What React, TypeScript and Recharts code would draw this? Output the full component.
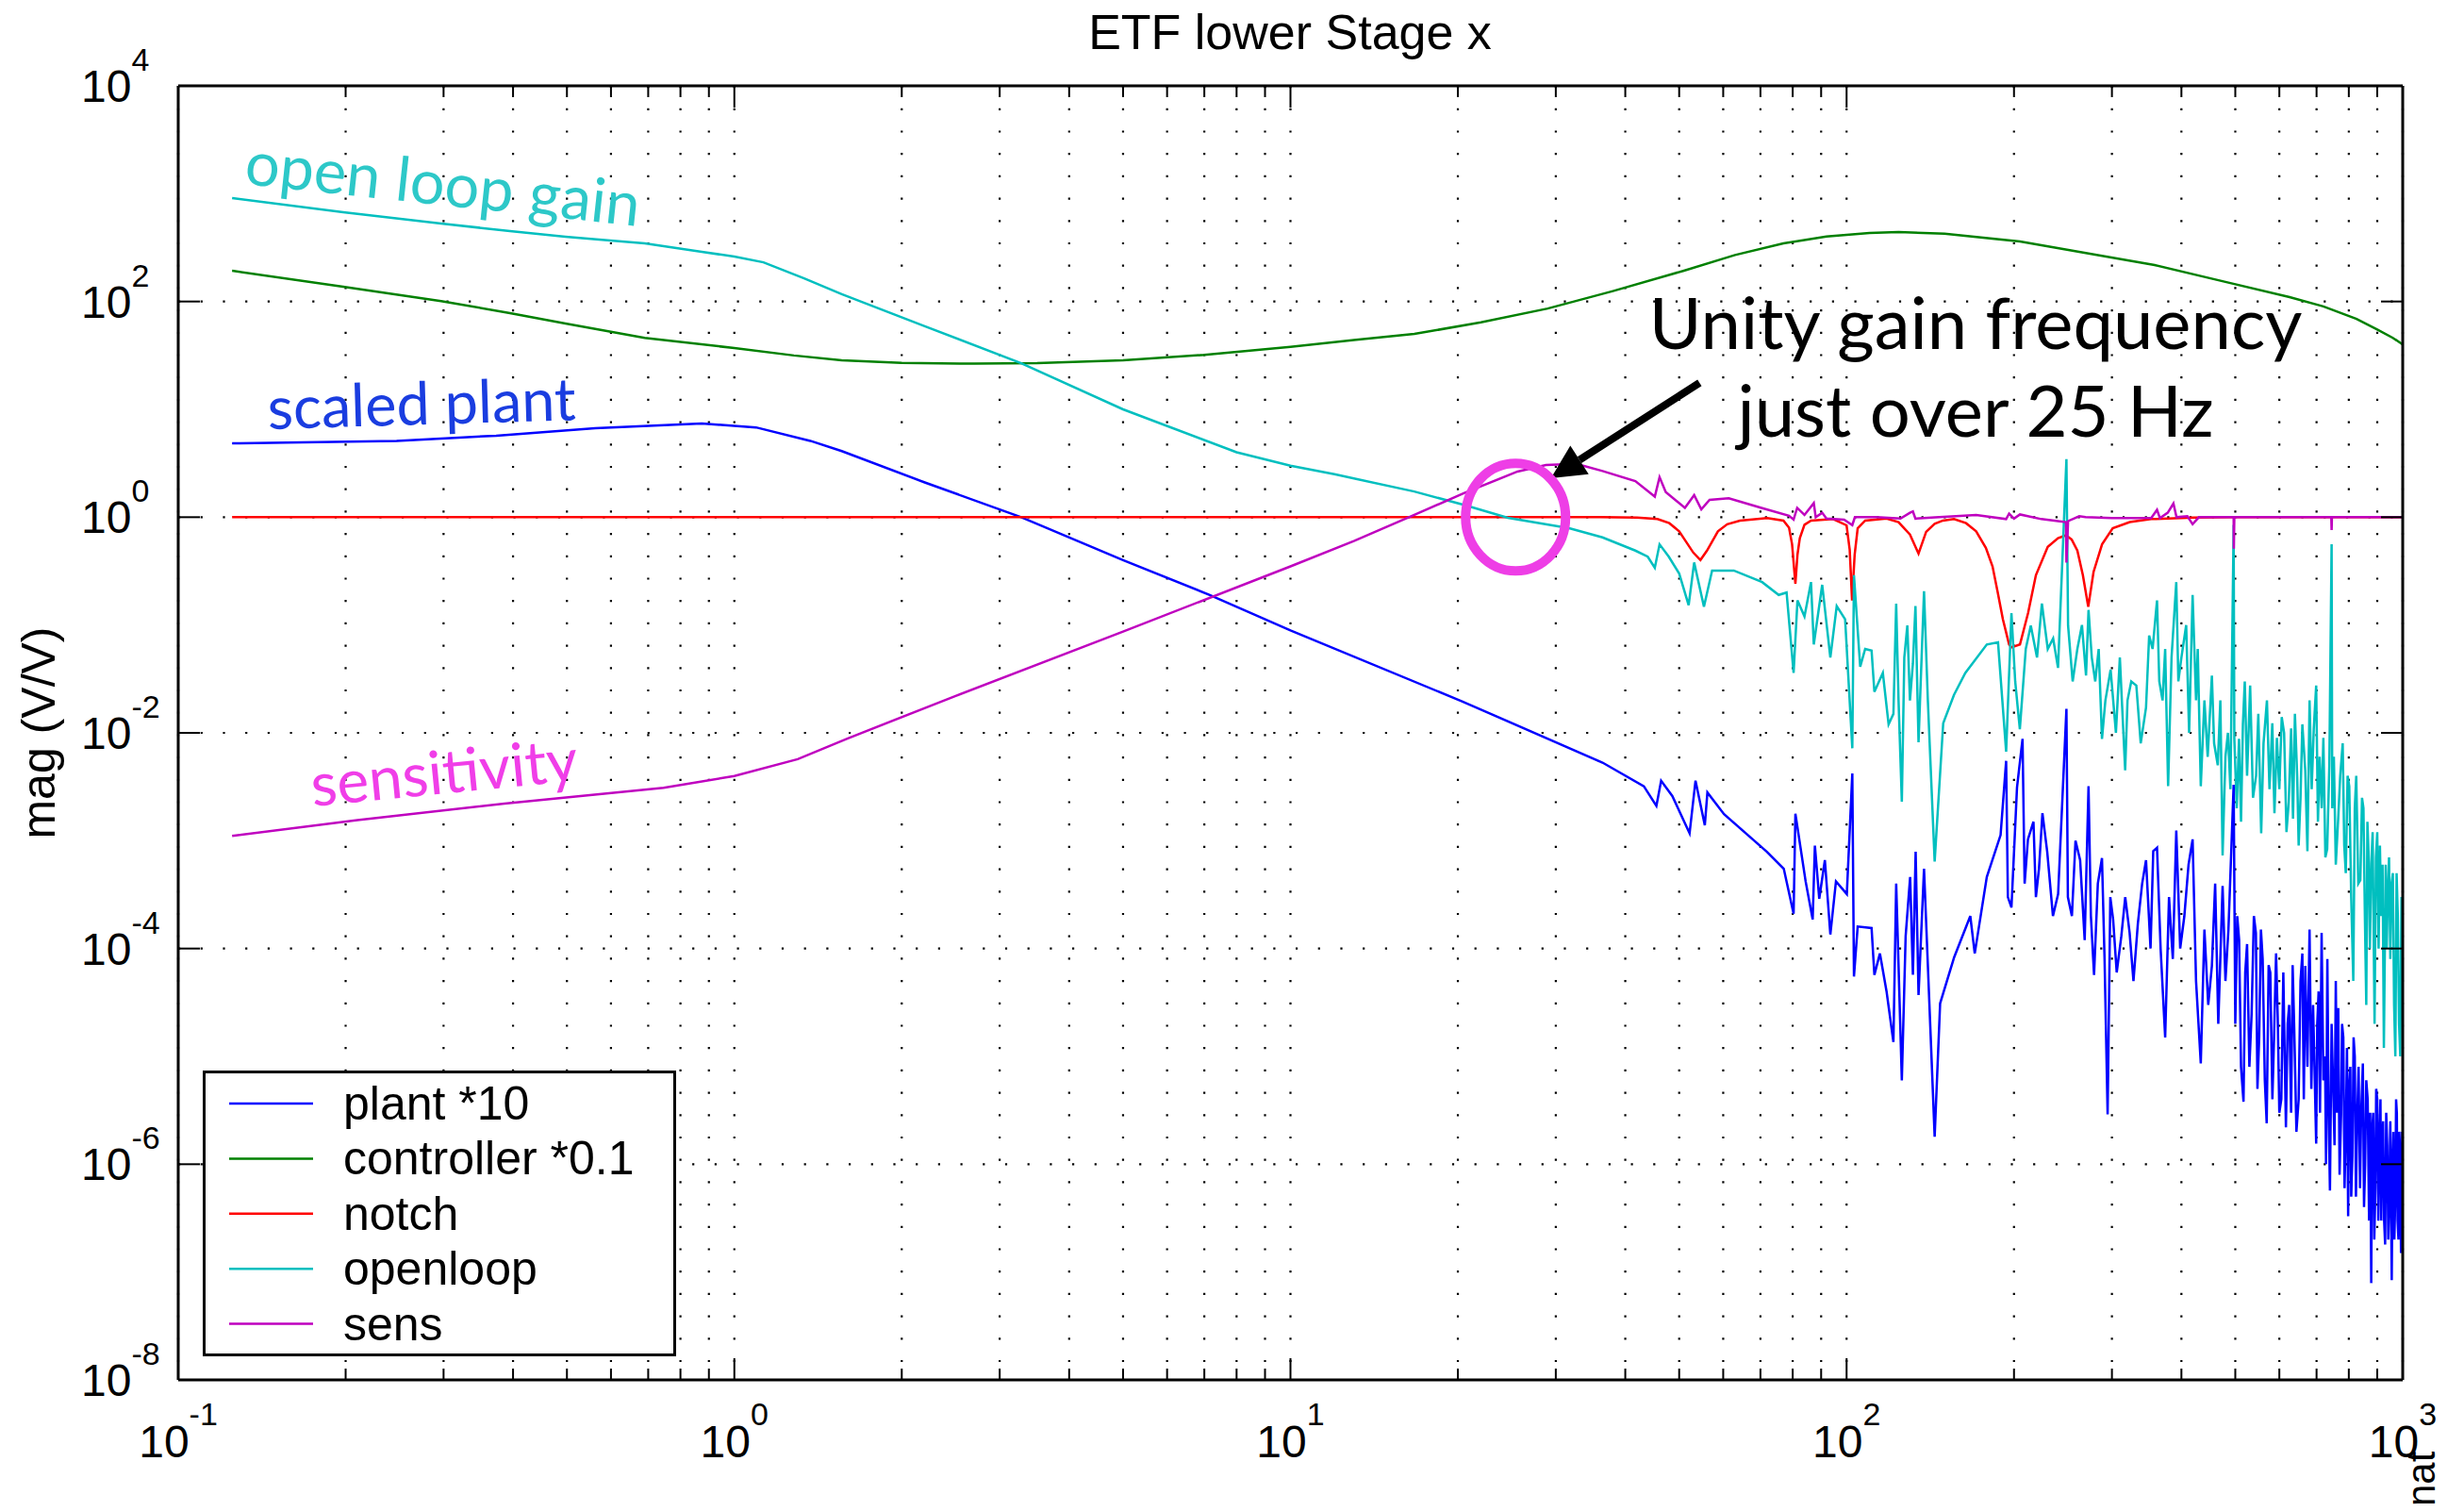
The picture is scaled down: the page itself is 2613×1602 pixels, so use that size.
import {
  CartesianGrid,
  Customized,
  Legend,
  Line,
  LineChart,
  ReferenceDot,
  ReferenceLine,
  XAxis,
  YAxis,
} from "recharts";

const FONT = "'Liberation Sans', Arial, Helvetica, sans-serif";
const HAND = "Lato, 'Open Sans', sans-serif";

// frequency ticks (Hz), labelled only at decades
const xTicks = [
  0.1, 0.2, 0.3, 0.4, 0.5, 0.6, 0.7, 0.8, 0.9,
  1, 2, 3, 4, 5, 6, 7, 8, 9,
  10, 20, 30, 40, 50, 60, 70, 80, 90,
  100, 200, 300, 400, 500, 600, 700, 800, 900, 1000,
];
const yTicks = [1e-8, 1e-6, 1e-4, 1e-2, 1, 1e2, 1e4];

// [frequency Hz, magnitude V/V]
const plantPts: [number, number][] = [
  [0.125, 4.84], [0.247, 5.1], [0.373, 5.7], [0.562, 6.7], [0.874, 7.4], [1.094, 6.8],
  [1.37, 5.1], [1.56, 4.1], [2.2, 2.1], [3.28, 1.0], [5, 0.4], [7.16, 0.19], [10, 0.089],
  [20.3, 0.0197], [36.4, 5.3e-3], [43.2, 3.2e-3], [45.5, 2.1e-3], [46.4, 3.6e-3],
  [48.6, 2.6e-3], [52.2, 1.17e-3], [53.5, 3.6e-3], [55.6, 1.39e-3], [56.2, 2.8e-3],
  [60.2, 1.76e-3], [71.9, 7.9e-4], [77.1, 5.5e-4], [80.3, 2.1e-4], [80.9, 1.78e-3],
  [84.4, 4.2e-4], [86.9, 1.86e-4], [87.7, 9.0e-4], [89.3, 2.9e-4], [91.4, 6.6e-4],
  [93.5, 1.35e-4], [95.7, 4.2e-4], [100.1, 3.2e-4], [102.4, 4.2e-3], [103.1, 5.5e-5],
  [104.7, 1.6e-4], [110.9, 1.55e-4], [112.2, 5.7e-5], [114.8, 9.0e-5], [118, 4e-5],
  [121.4, 1.36e-5], [122.8, 4.0e-4], [125.7, 6.0e-6], [127.7, 1.3e-4], [130.1, 4.6e-4],
  [131.6, 5.7e-5], [133.1, 7.9e-4], [134.7, 3.7e-5], [137.8, 5.5e-4], [144.0, 1.8e-6],
  [147.3, 3.1e-5], [156.1, 8.3e-5], [166.9, 2.0e-4], [170, 9e-5], [178.7, 4.6e-4],
  [189.2, 1.13e-3], [193.6, 5.5e-3], [195, 3e-4], [197.9, 2.4e-4], [202.5, 3.1e-3],
  [207.2, 8.8e-3], [209, 4e-4], [211.9, 1.03e-3], [216.8, 1.5e-3], [219, 3e-4],
  [221.8, 5.5e-4], [225, 1.8e-3], [229.5, 7.9e-4], [235, 2e-4], [240.1, 3.2e-4],
  [248.5, 0.0167], [250, 3e-4], [254.2, 2.0e-4], [258, 1e-3], [263, 6.6e-4], [268, 1.2e-4],
  [272.3, 3.2e-3], [275, 2e-4], [278.6, 5.7e-5], [283, 4e-4], [287.9, 6.9e-4], [291, 8e-5],
  [294.7, 2.9e-6], [298, 3e-4], [301.5, 1.86e-4], [306, 6e-5], [311.9, 1.3e-4],
  [317, 3e-4], [322.8, 1.4e-4], [328, 5e-5], [334, 1.7e-4], [340, 4e-4], [345.5, 6.6e-4],
  [352, 1e-4], [356, 8e-4], [361.6, 8.6e-4], [367, 1e-4], [374, 1.5e-5], [380, 3e-4],
  [386, 8e-5], [391.6, 1.24e-3], [398, 1e-4], [404.9, 2.0e-4], [412, 6e-4], [419, 1.03e-3],
  [425, 5e-5], [433.4, 8.6e-6], [440, 1.5e-4], [447, 3e-5], [453.8, 6.9e-5], [460, 4e-4],
  [466, 2e-5], [474.4, 3.8e-4], [480, 5e-5], [486, 1.5e-4], [496.6, 3.3e-3], [500, 2e-5],
  [504, 2e-4], [508, 1.2e-4], [512, 8e-6], [517.3, 3.8e-6], [521, 6e-5], [525, 1.1e-4],
  [530, 8e-6], [535, 2.5e-5], [540, 2e-4], [544.5, 1.4e-4], [548, 5e-6], [552, 1.5e-5],
  [556, 1.5e-4], [560, 8e-5], [565, 6e-6], [569.4, 2.4e-6], [574, 7e-5], [578, 6e-5],
  [583, 4e-6], [587, 1.5e-5], [592, 9e-5], [596, 2.3e-5], [600, 3e-6], [605, 4e-6],
  [610, 6e-5], [616.6, 2.2e-6], [621, 2e-5], [625, 3e-5], [630, 3e-6], [634, 7e-5],
  [638.2, 1.8e-5], [644, 2e-6], [650, 4e-6], [655, 5e-5], [660, 9e-5], [664, 4e-6],
  [668, 6.9e-5], [674, 8e-6], [680, 1.5e-4], [685, 5e-6], [690, 3e-5], [694, 8e-6],
  [698.9, 1.55e-6], [702, 2e-5], [706, 4e-5], [710, 3e-6], [714.8, 1.4e-4], [720, 6e-6],
  [725, 1e-5], [728, 1e-6], [732, 8e-5], [736, 3e-6], [739.9, 5.7e-7], [745, 2e-5],
  [750, 5e-6], [754, 1.5e-6], [758, 5e-5], [762, 3e-6], [765.8, 2.8e-5], [770, 8e-7],
  [775, 3e-6], [778, 2e-5], [782, 1.5e-5], [786, 6e-7], [790, 2e-6], [794, 1.2e-5],
  [797.8, 3.3e-7], [801, 5e-6], [805, 8e-6], [808, 5e-7], [812, 1.2e-6], [816, 1.5e-5],
  [820, 1e-5], [824, 5e-7], [828.6, 2.9e-6], [833, 8e-6], [838, 6e-7], [842, 3e-6],
  [847.9, 8.6e-6], [852, 4e-7], [856, 1e-6], [860, 6e-6], [865, 4e-6], [870, 3e-7],
  [874, 3e-6], [877.8, 7.9e-8], [881, 2e-6], [885, 3e-6], [889, 2e-7], [893, 6e-7],
  [896, 5e-6], [900, 4e-6], [904, 3e-7], [908.6, 1.9e-6], [912, 4e-6], [915, 3e-7],
  [918, 1.2e-6], [922, 2.5e-6], [926, 3e-7], [929.8, 1.8e-7], [934, 3e-6], [938, 1.5e-6],
  [942, 2e-7], [945, 4e-7], [950, 2.5e-6], [955.6, 8.4e-8], [959, 1e-6], [962, 2e-6],
  [966, 2e-7], [970, 5e-7], [973, 4e-6], [976, 3e-6], [979, 3e-7], [982.6, 2e-7],
  [986, 2e-6], [990, 1.2e-6], [993, 1.5e-7], [995, 3e-7], [998, 2e-6], [1000, 8e-7],
];

const controllerPts: [number, number][] = [
  [0.125, 193], [0.198, 137], [0.297, 101], [0.395, 78], [0.497, 62.5], [0.69, 46], [1.0, 37],
  [1.28, 31.6], [1.56, 28.5], [2.0, 27], [2.7, 26.5], [3.5, 26.8], [5, 28.5], [7, 32], [10, 38],
  [13, 44], [16.7, 50], [22, 64], [29, 86], [38, 125], [51, 193], [63, 270], [77, 346], [92, 400],
  [110, 432], [124, 440], [150, 425], [205, 360], [280, 272], [358, 218], [480, 152], [626, 110],
  [720, 90], [826, 69], [900, 55], [960, 46], [1000, 40],
];

const notchPts: [number, number][] = [
  [0.125, 1], [1, 1], [10, 1], [36, 1], [42, 0.99], [45.7, 0.96], [48, 0.88], [50, 0.74],
  [53, 0.47], [54.6, 0.4], [56.1, 0.49], [58.7, 0.74], [61, 0.86], [64.3, 0.93], [72, 0.98],
  [77, 0.93], [78.8, 0.8], [79.8, 0.56], [80.9, 0.241], [81.6, 0.45], [82.4, 0.64], [84, 0.85],
  [86.3, 0.93], [94.6, 0.96], [100, 0.84], [101.3, 0.5], [102.3, 0.169], [103.4, 0.45],
  [104.7, 0.79], [108, 0.93], [118, 0.97], [124, 0.9], [130, 0.69], [134.7, 0.46], [139, 0.73],
  [144, 0.87], [149, 0.93], [156, 0.96], [164, 0.88], [171, 0.74], [178, 0.52], [183, 0.35],
  [187, 0.2], [191, 0.113], [196, 0.066], [198, 0.062], [205, 0.066], [212, 0.129], [219, 0.29],
  [230, 0.53], [240, 0.64], [248, 0.68], [254, 0.62], [260, 0.49], [266, 0.29], [272, 0.148],
  [278, 0.31], [288, 0.56], [301, 0.79], [323, 0.9], [353, 0.96], [420, 0.99], [500, 1],
  [1000, 1],
];

const openloopPts: [number, number][] = [
  [0.125, 910], [0.198, 673], [0.297, 528], [0.395, 450], [0.497, 398], [0.69, 346],
  [0.874, 289], [1.0, 261], [1.128, 231], [1.335, 164], [1.56, 117], [2.2, 59], [3.28, 26.8],
  [5, 10], [8, 4.0], [10, 3.0], [12, 2.5], [16.7, 1.73], [20.5, 1.3], [24.6, 0.986],
  [31.7, 0.79], [36.4, 0.65], [41.7, 0.49], [43.9, 0.43], [45.2, 0.34], [46.1, 0.56],
  [47.9, 0.43], [50, 0.3], [52.0, 0.153], [53.2, 0.38], [55.4, 0.148], [57.3, 0.32],
  [62.7, 0.32], [70.5, 0.25], [75.5, 0.19], [78, 0.2], [80.3, 0.036], [81.6, 0.169], [84, 0.12],
  [86.3, 0.25], [87.3, 0.066], [90.4, 0.236], [93.5, 0.05], [96, 0.15], [99.4, 0.113],
  [102.4, 0.0072], [103.1, 0.29], [105.8, 0.041], [108, 0.06], [110.9, 0.058], [112.2, 0.024],
  [116.2, 0.036], [119, 0.012], [121.4, 0.015], [122.8, 0.158], [124, 0.02], [125.7, 0.0023],
  [127, 0.05], [128.6, 0.099], [130, 0.02], [131.6, 0.044], [133, 0.15], [134.7, 0.0082],
  [137.8, 0.206], [140, 0.02], [144.0, 6.4e-4], [149.2, 0.0123], [156, 0.0225],
  [163.5, 0.036], [178.7, 0.066], [187.2, 0.069], [193.6, 0.0067], [197.9, 0.129],
  [201, 0.03], [204.9, 0.0108], [210, 0.06], [214.4, 0.099], [220, 0.05], [224.5, 0.158],
  [230, 0.06], [235.2, 0.075], [240, 0.04], [248.5, 3.46], [250.2, 0.099], [255, 0.03],
  [260, 0.06], [265, 0.1], [269.5, 0.034], [272.3, 0.138], [276, 0.05], [280, 0.03],
  [284, 0.06], [287.9, 0.0088], [292, 0.02], [298.4, 0.0385], [305, 0.01], [310, 0.05],
  [316.9, 0.0045], [320, 0.02], [325, 0.03], [331.9, 0.0275], [338, 0.008], [345.5, 0.0172],
  [350, 0.08], [355, 0.06], [361.6, 0.169], [365, 0.03], [370, 0.02], [374, 0.06],
  [378.6, 0.0032], [384, 0.05], [391.6, 0.25], [395, 0.03], [400, 0.05], [408, 0.1],
  [413, 0.01], [419, 0.19], [425, 0.02], [428, 0.06], [433.4, 0.0032], [440, 0.02],
  [446, 0.006], [453.8, 0.034], [458, 0.008], [465, 0.005], [470, 0.02], [474.4, 7.3e-4],
  [480, 0.006], [485, 0.01], [490, 0.003], [496.6, 0.85], [498, 0.0088], [503, 0.002],
  [507.8, 0.0088], [512, 0.0015], [516, 0.012], [520, 0.03], [525, 0.004], [531.7, 0.0275],
  [538, 0.0025], [545, 0.004], [550, 0.015], [556.6, 1.17e-3], [562, 0.008], [570, 0.02],
  [576, 0.003], [582.8, 0.0123], [588, 0.0018], [594, 0.009], [600, 0.003], [606, 0.014],
  [612, 0.01], [618, 0.0012], [623.9, 0.0023], [630, 0.011], [635, 0.0016], [640, 0.015],
  [646, 0.004], [650, 0.0009], [655, 0.0025], [660, 0.012], [668, 0.0045], [674, 0.0008],
  [680, 0.02], [686, 0.003], [692, 0.011], [698.9, 0.0275], [704, 0.0015], [709, 0.006],
  [715, 0.002], [720, 0.009], [726, 0.0007], [731.5, 8.4e-4], [738, 0.005], [745, 0.56],
  [747, 0.002], [752, 0.006], [758, 0.0006], [765.8, 1.64e-3], [772, 0.004], [780, 0.008],
  [785, 0.0009], [790, 5e-4], [796, 0.004], [801.5, 0.0032], [808, 0.0003], [815, 5e-5],
  [820, 0.002], [825, 0.004], [832, 0.0004], [839.1, 4.3e-4], [845, 0.0025], [850, 2e-3],
  [855, 0.0002], [860, 3e-5], [864, 0.0015], [868, 8e-4], [873, 0.0001], [877.8, 6.1e-4],
  [883, 0.0012], [890, 2e-5], [895, 0.0007], [900, 1.2e-3], [905, 0.0001], [910, 0.0009],
  [915, 2e-4], [920, 0.0006], [925, 1.2e-5], [932, 6e-4], [936, 0.0001], [940.6, 3.5e-4],
  [945, 0.0007], [950, 8e-5], [955, 0.0004], [960, 5e-4], [965, 3e-5], [970, 1e-5],
  [975, 0.0005], [980, 2e-4], [985, 2e-5], [990, 1e-5], [995, 3e-4], [1000, 1.2e-4],
];

const sensPts: [number, number][] = [
  [0.125, 1.11e-3], [0.21, 1.55e-3], [0.386, 2.21e-3], [0.746, 3.09e-3], [1.0, 3.98e-3],
  [1.3, 5.7e-3], [1.6, 8.9e-3], [2.5, 0.022], [5, 0.087], [10, 0.35], [13, 0.6], [16.7, 1.05],
  [20.5, 1.67], [25.6, 2.65], [28.8, 3.05], [31, 3.1], [33.6, 3.0], [36.4, 2.68], [41.7, 2.16],
  [45.2, 1.55], [46.1, 2.35], [47.3, 1.71], [51.2, 1.22], [53.2, 1.6], [54.8, 1.18],
  [56.7, 1.45], [61.4, 1.5], [70.3, 1.22], [78.8, 1.03], [80.3, 0.95], [81.5, 1.22], [84, 1.05],
  [87.3, 1.35], [88, 1.0], [90.4, 1.1], [92, 0.97], [99, 0.95], [102.4, 0.845], [103.5, 1.0],
  [113, 1.0], [125, 0.97], [130, 1.1], [131.6, 1.13], [133, 0.97], [142, 0.99], [171, 1.05],
  [193.6, 0.96], [196, 1.08], [200, 0.97], [205, 1.06], [224, 0.96], [240, 0.92], [248, 0.9],
  [248.5, 0.38], [250.2, 0.92], [262, 1.02], [269, 1.0], [300, 0.98], [353, 0.98],
  [361.6, 1.17], [366, 0.98], [378, 1.1], [387, 1.34], [392, 1.0], [410, 1.02], [419, 0.86],
  [430, 1.0], [496.6, 1.0], [497, 0.51], [498, 1.0], [744, 1.0], [745, 0.76], [746, 1.0],
  [1000, 1.0],
];

const toRows = (pts: [number, number][]) => pts.map(([f, v]) => ({ f, v }));

const series = [
  { name: "plant *10", color: "#0000ff", rows: toRows(plantPts) },
  { name: "controller *0.1", color: "#008000", rows: toRows(controllerPts) },
  { name: "notch", color: "#ff0000", rows: toRows(notchPts) },
  { name: "openloop", color: "#00bfbf", rows: toRows(openloopPts) },
  { name: "sens", color: "#bf00bf", rows: toRows(sensPts) },
];

const isMajor = (v: number) => Math.abs(Math.log10(v) - Math.round(Math.log10(v))) < 1e-6;
const expOf = (v: number) => Math.round(Math.log10(v));

const BottomTick = (p: any) => {
  const v = p.payload.value;
  const major = isMajor(v);
  return (
    <g>
      <line x1={p.x} x2={p.x} y1={p.y} y2={p.y - (major ? 23 : 12)} stroke="#000" strokeWidth={2} />
      {major && (
        <text x={p.x} y={p.y + 82} textAnchor="middle" fontFamily={FONT} fontSize={48} fill="#000">
          10
          <tspan dy={-34} fontSize={34}>{expOf(v)}</tspan>
        </text>
      )}
    </g>
  );
};

const TopTick = (p: any) => {
  const major = isMajor(p.payload.value);
  return <line x1={p.x} x2={p.x} y1={p.y} y2={p.y + (major ? 23 : 12)} stroke="#000" strokeWidth={2} />;
};

const LeftTick = (p: any) => {
  const v = p.payload.value;
  return (
    <g>
      <line x1={p.x} x2={p.x + 23} y1={p.y} y2={p.y} stroke="#000" strokeWidth={2} />
      <text x={p.x - 103} y={p.y + 17} textAnchor="start" fontFamily={FONT} fontSize={48} fill="#000">
        10
        <tspan dy={-33} fontSize={34}>{expOf(v)}</tspan>
      </text>
    </g>
  );
};

const RightTick = (p: any) => (
  <line x1={p.x} x2={p.x - 23} y1={p.y} y2={p.y} stroke="#000" strokeWidth={2} />
);

const Arrow = (p: any) => {
  const { x1, y1, x2, y2 } = p;
  if (x1 == null || y2 == null) return null;
  const a = Math.atan2(y2 - y1, x2 - x1);
  const L = 36;
  const Wd = 18;
  const bx = x2 - L * Math.cos(a);
  const by = y2 - L * Math.sin(a);
  const nx = -Math.sin(a);
  const ny = Math.cos(a);
  return (
    <g>
      <line x1={x1} y1={y1} x2={bx} y2={by} stroke="#000" strokeWidth={8} />
      <polygon
        points={`${x2},${y2} ${bx + nx * Wd},${by + ny * Wd} ${bx - nx * Wd},${by - ny * Wd}`}
        fill="#000"
      />
    </g>
  );
};

const LegendBox = () => (
  <svg width={502} height={303} style={{ display: "block" }}>
    <rect x={1.5} y={1.5} width={499} height={300} fill="#fff" stroke="#000" strokeWidth={3} />
    {series.map((s, i) => {
      const cy = 35 + i * 58.4;
      return (
        <g key={s.name}>
          <line x1={28} x2={117} y1={cy} y2={cy} stroke={s.color} strokeWidth={2.5} />
          <text x={149} y={cy + 17} fontFamily={FONT} fontSize={50} fill="#000">
            {s.name}
          </text>
        </g>
      );
    })}
  </svg>
);

const Frame = () => (
  <g>
    <text x={1368} y={52} textAnchor="middle" fontFamily={FONT} fontSize={52} fill="#000">
      ETF lower Stage x
    </text>
    <text
      x={58}
      y={777}
      transform="rotate(-90 58 777)"
      textAnchor="middle"
      fontFamily={FONT}
      fontSize={50}
      fill="#000"
    >
      mag (V/V)
    </text>
    <text
      x={2582}
      y={1597}
      transform="rotate(-90 2582 1597)"
      textAnchor="start"
      fontFamily={FONT}
      fontSize={42}
      fill="#000"
    >
      nat
    </text>
  </g>
);

export default function App() {
  return (
    <div style={{ position: "absolute", left: 0, top: 0, background: "#fff" }}>
      <LineChart width={2613} height={1602} margin={{ top: 0, right: 0, bottom: 0, left: 0 }}>
        <CartesianGrid stroke="#000" strokeWidth={2.2} strokeDasharray="2.2 21.5" />
        <XAxis
          dataKey="f"
          type="number"
          scale="log"
          domain={[0.1, 1000]}
          ticks={xTicks}
          interval={0}
          allowDataOverflow
          height={139}
          tickSize={0}
          tickMargin={0}
          tickLine={false}
          axisLine={{ stroke: "#000", strokeWidth: 3 }}
          tick={BottomTick}
        />
        <XAxis
          xAxisId="top"
          orientation="top"
          dataKey="f"
          type="number"
          scale="log"
          domain={[0.1, 1000]}
          ticks={xTicks}
          interval={0}
          allowDataOverflow
          height={91}
          tickSize={0}
          tickMargin={0}
          tickLine={false}
          axisLine={{ stroke: "#000", strokeWidth: 3 }}
          tick={TopTick}
        />
        <YAxis
          type="number"
          scale="log"
          domain={[1e-8, 1e4]}
          ticks={yTicks}
          interval={0}
          allowDataOverflow
          width={189}
          tickSize={0}
          tickMargin={0}
          tickLine={false}
          axisLine={{ stroke: "#000", strokeWidth: 3 }}
          tick={LeftTick}
        />
        <YAxis
          yAxisId="right"
          orientation="right"
          type="number"
          scale="log"
          domain={[1e-8, 1e4]}
          ticks={yTicks}
          interval={0}
          allowDataOverflow
          width={65}
          tickSize={0}
          tickMargin={0}
          tickLine={false}
          axisLine={{ stroke: "#000", strokeWidth: 3 }}
          tick={RightTick}
        />
        {series.map((s) => (
          <Line
            key={s.name}
            name={s.name}
            data={s.rows}
            dataKey="v"
            type="linear"
            stroke={s.color}
            strokeWidth={2.5}
            dot={false}
            activeDot={false}
            isAnimationActive={false}
          />
        ))}
        <ReferenceDot
          x={0.131}
          y={1230}
          shape={(p: any) => (
            <text
              x={p.cx}
              y={p.cy}
              transform={`rotate(6.1 ${p.cx} ${p.cy})`}
              fontFamily={HAND}
              fontSize={65}
              fill="#2dc8c8"
            >
              open loop gain
            </text>
          )}
        />
        <ReferenceDot
          x={0.145}
          y={6.55}
          shape={(p: any) => (
            <text
              x={p.cx}
              y={p.cy}
              transform={`rotate(-1.7 ${p.cx} ${p.cy})`}
              fontFamily={HAND}
              fontSize={63}
              fill="#1a3de0"
            >
              scaled plant
            </text>
          )}
        />
        <ReferenceDot
          x={0.1746}
          y={2.08e-3}
          shape={(p: any) => (
            <text
              x={p.cx}
              y={p.cy}
              transform={`rotate(-5.6 ${p.cx} ${p.cy})`}
              fontFamily={HAND}
              fontSize={64}
              fill="#f03ee8"
            >
              sensitivity
            </text>
          )}
        />
        <ReferenceDot
          x={170.6}
          y={36.3}
          shape={(p: any) => (
            <text x={p.cx} y={p.cy} textAnchor="middle" fontFamily={HAND} fontSize={76} fill="#000">
              Unity gain frequency
              <tspan x={p.cx} dy={93}>
                just over 25 Hz
              </tspan>
            </text>
          )}
        />
        <ReferenceDot
          x={25.4}
          y={1.0}
          shape={(p: any) => (
            <ellipse cx={p.cx} cy={p.cy} rx={53} ry={57} fill="none" stroke="#ee3ee6" strokeWidth={10} />
          )}
        />
        <ReferenceLine
          segment={[
            { x: 54.4, y: 17.6 },
            { x: 29.4, y: 2.3 },
          ]}
          shape={Arrow}
        />
        <Customized component={Frame} />
        <Legend
          layout="horizontal"
          verticalAlign="middle"
          align="center"
          wrapperStyle={{ left: 215, top: 1135, width: 502, height: 303 }}
          content={() => <LegendBox />}
        />
      </LineChart>
    </div>
  );
}
